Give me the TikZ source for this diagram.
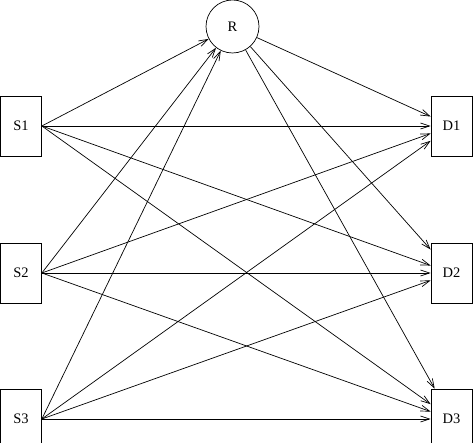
\documentclass[tikz,border=0pt]{standalone}
\usepackage{fontspec}
\setmainfont{Liberation Serif}
\usetikzlibrary{arrows.meta}
\begin{document}
\begin{tikzpicture}[x=1pt,y=1pt,
	caixa/.style={draw, minimum width=41pt, minimum height=60pt, inner sep=0pt},
	rele/.style={draw, circle, minimum size=53pt, inner sep=0pt},
	seta/.style={-{Straight Barb[length=9pt,width=6pt]}},
	font=\fontsize{14.5}{16}\selectfont, line width=0.7pt]
	\useasboundingbox (0,0) rectangle (474,443);

% fontes e destinos
	\foreach \i/\y in {1/317, 2/170, 3/24} {
		\node[caixa] (S\i) at (21,\y) {S\i};
		\node[caixa] (D\i) at (451.5,\y) {D\i};
	}
% rele
	\node[rele] (R) at (232.5,416.5) {R};

% ligacoes
	\foreach \i in {1,2,3} {
		\draw[seta] (S\i.east) -- (R);
		\draw[seta] (R) -- (D\i);
		\foreach \j in {1,2,3}
			\draw[seta] (S\i.east) -- (D\j);
	}
\end{tikzpicture}
\end{document}
